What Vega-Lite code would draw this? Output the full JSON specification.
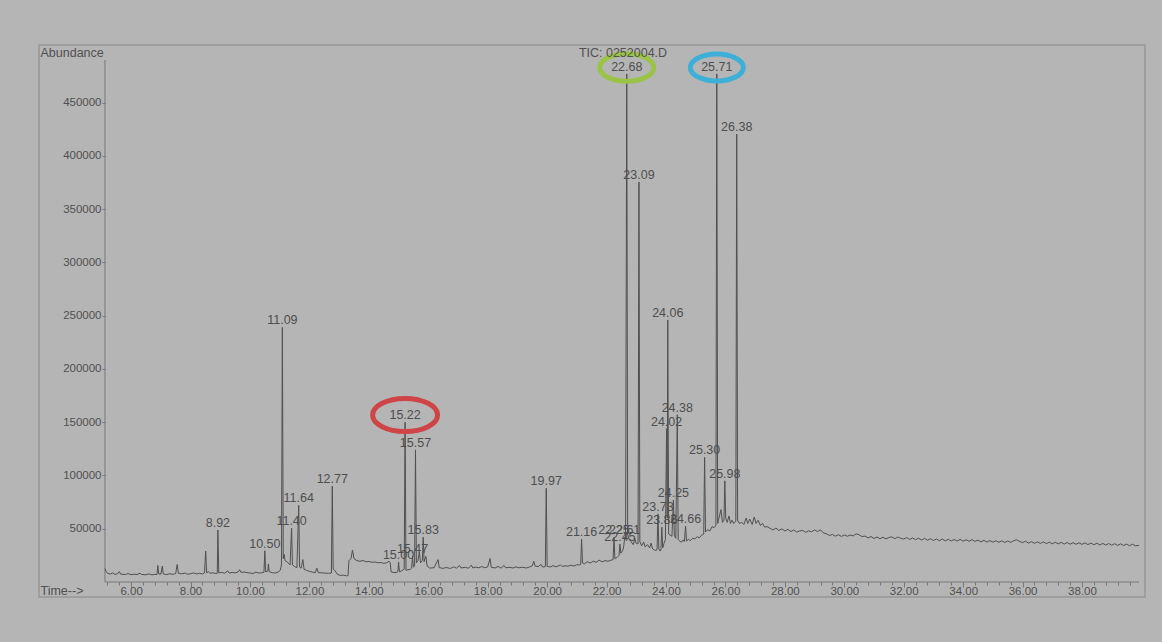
{
  "$schema": "https://vega.github.io/schema/vega-lite/v6.json",
  "autosize": {"type": "none"},
  "width": 1106,
  "height": 552,
  "padding": {"left": 39, "top": 45, "right": 17, "bottom": 45},
  "background": "#b5b5b5",
  "title": {
    "text": "TIC: 0252004.D",
    "anchor": "middle",
    "frame": "group",
    "font": "Liberation Sans",
    "fontSize": 12.5,
    "fontWeight": "normal",
    "color": "#505050",
    "baseline": "middle",
    "offset": -22,
    "dx": 31
  },
  "config": {
    "view": {"stroke": "#969696", "strokeWidth": 1.5},
    "axis": {
      "labelFont": "Liberation Sans",
      "labelFontSize": 11.5,
      "labelColor": "#505050",
      "titleFont": "Liberation Sans",
      "titleFontSize": 12.5,
      "titleFontWeight": "normal",
      "titleColor": "#505050",
      "domain": false,
      "tickColor": "#777777",
      "grid": false,
      "labelOverlap": false,
      "labelFlush": false
    }
  },
  "datasets": {
    "trace": [
      {"t": 5.12, "a": 12500}, {"t": 5.16, "a": 9500}, {"t": 5.22, "a": 8000}, {"t": 5.3, "a": 7500},
      {"t": 5.38, "a": 8600}, {"t": 5.45, "a": 7200}, {"t": 5.55, "a": 7800}, {"t": 5.6, "a": 9800},
      {"t": 5.65, "a": 7400}, {"t": 5.8, "a": 7000}, {"t": 5.9, "a": 7900}, {"t": 6.0, "a": 6800},
      {"t": 6.1, "a": 7300}, {"t": 6.2, "a": 7000}, {"t": 6.3, "a": 8200}, {"t": 6.35, "a": 7100},
      {"t": 6.5, "a": 6800}, {"t": 6.6, "a": 7600}, {"t": 6.7, "a": 6700}, {"t": 6.8, "a": 7200},
      {"t": 6.87, "a": 7000}, {"t": 6.9, "a": 15500}, {"t": 6.93, "a": 7500}, {"t": 7.0, "a": 7400},
      {"t": 7.05, "a": 15000}, {"t": 7.08, "a": 7600}, {"t": 7.2, "a": 7000}, {"t": 7.3, "a": 7800},
      {"t": 7.4, "a": 7200}, {"t": 7.5, "a": 7900}, {"t": 7.55, "a": 16500}, {"t": 7.59, "a": 8200},
      {"t": 7.7, "a": 7600}, {"t": 7.8, "a": 8400}, {"t": 7.9, "a": 7300}, {"t": 8.0, "a": 7800},
      {"t": 8.1, "a": 8500}, {"t": 8.2, "a": 7600}, {"t": 8.3, "a": 8200}, {"t": 8.4, "a": 7500},
      {"t": 8.47, "a": 8600}, {"t": 8.51, "a": 29000}, {"t": 8.54, "a": 8600}, {"t": 8.6, "a": 9800},
      {"t": 8.65, "a": 8200}, {"t": 8.75, "a": 8600}, {"t": 8.85, "a": 8000}, {"t": 8.9, "a": 8400},
      {"t": 8.92, "a": 48800, "label": "8.92"}, {"t": 8.95, "a": 8600}, {"t": 9.05, "a": 9000},
      {"t": 9.15, "a": 8200}, {"t": 9.25, "a": 10500}, {"t": 9.3, "a": 8400}, {"t": 9.4, "a": 9000},
      {"t": 9.5, "a": 8500}, {"t": 9.6, "a": 9400}, {"t": 9.65, "a": 11500}, {"t": 9.7, "a": 9000},
      {"t": 9.8, "a": 9400}, {"t": 9.9, "a": 8800}, {"t": 10.0, "a": 8400}, {"t": 10.1, "a": 8000},
      {"t": 10.2, "a": 9200}, {"t": 10.3, "a": 8400}, {"t": 10.4, "a": 8700}, {"t": 10.47, "a": 9000},
      {"t": 10.5, "a": 29300, "label": "10.50"}, {"t": 10.53, "a": 9600}, {"t": 10.6, "a": 10200},
      {"t": 10.62, "a": 17000}, {"t": 10.65, "a": 9600}, {"t": 10.75, "a": 8800}, {"t": 10.85, "a": 8400},
      {"t": 10.95, "a": 9400}, {"t": 11.02, "a": 11000}, {"t": 11.06, "a": 16000},
      {"t": 11.09, "a": 239000, "label": "11.09"}, {"t": 11.12, "a": 22000}, {"t": 11.15, "a": 26000},
      {"t": 11.18, "a": 20000}, {"t": 11.25, "a": 19000}, {"t": 11.35, "a": 16000},
      {"t": 11.4, "a": 50600, "label": "11.40"}, {"t": 11.43, "a": 16000}, {"t": 11.5, "a": 14500},
      {"t": 11.58, "a": 13500}, {"t": 11.64, "a": 72000, "label": "11.64"}, {"t": 11.67, "a": 14000},
      {"t": 11.72, "a": 13000}, {"t": 11.78, "a": 21000}, {"t": 11.82, "a": 12000}, {"t": 11.9, "a": 11000},
      {"t": 12.0, "a": 10000}, {"t": 12.1, "a": 9300}, {"t": 12.2, "a": 8800}, {"t": 12.25, "a": 13000},
      {"t": 12.3, "a": 8800}, {"t": 12.45, "a": 8500}, {"t": 12.55, "a": 8300}, {"t": 12.65, "a": 8200},
      {"t": 12.74, "a": 8400}, {"t": 12.77, "a": 90000, "label": "12.77"}, {"t": 12.8, "a": 12000},
      {"t": 12.85, "a": 11000}, {"t": 12.95, "a": 7000}, {"t": 13.05, "a": 6200}, {"t": 13.15, "a": 6400},
      {"t": 13.25, "a": 5800}, {"t": 13.3, "a": 6000}, {"t": 13.33, "a": 20000}, {"t": 13.4, "a": 22000},
      {"t": 13.45, "a": 30000}, {"t": 13.5, "a": 22000}, {"t": 13.6, "a": 20000}, {"t": 13.7, "a": 19500},
      {"t": 13.8, "a": 20200}, {"t": 13.9, "a": 19000}, {"t": 14.0, "a": 19300}, {"t": 14.1, "a": 18500},
      {"t": 14.2, "a": 18800}, {"t": 14.3, "a": 18000}, {"t": 14.4, "a": 18300}, {"t": 14.5, "a": 17600},
      {"t": 14.6, "a": 18000}, {"t": 14.68, "a": 19500}, {"t": 14.72, "a": 18000}, {"t": 14.75, "a": 9500},
      {"t": 14.85, "a": 8800}, {"t": 14.95, "a": 9200}, {"t": 14.98, "a": 10000},
      {"t": 15.0, "a": 18800, "label": "15.00"}, {"t": 15.03, "a": 9500}, {"t": 15.1, "a": 10500},
      {"t": 15.19, "a": 12000}, {"t": 15.22, "a": 150000, "label": "15.22"}, {"t": 15.25, "a": 11000},
      {"t": 15.32, "a": 11500}, {"t": 15.4, "a": 12000}, {"t": 15.44, "a": 13000},
      {"t": 15.47, "a": 24000, "label": "15.47"}, {"t": 15.5, "a": 14000}, {"t": 15.54, "a": 15000},
      {"t": 15.57, "a": 124000, "label": "15.57"}, {"t": 15.6, "a": 18000}, {"t": 15.65, "a": 20000},
      {"t": 15.7, "a": 28000}, {"t": 15.74, "a": 18000}, {"t": 15.8, "a": 20000},
      {"t": 15.83, "a": 42000, "label": "15.83"}, {"t": 15.86, "a": 19000}, {"t": 15.92, "a": 24000},
      {"t": 15.96, "a": 15000}, {"t": 16.05, "a": 13000}, {"t": 16.2, "a": 13500}, {"t": 16.33, "a": 21000},
      {"t": 16.37, "a": 13500}, {"t": 16.5, "a": 12800}, {"t": 16.6, "a": 13600}, {"t": 16.75, "a": 12700},
      {"t": 16.85, "a": 14200}, {"t": 16.95, "a": 13000}, {"t": 17.05, "a": 15500}, {"t": 17.1, "a": 13200},
      {"t": 17.25, "a": 13800}, {"t": 17.35, "a": 12900}, {"t": 17.45, "a": 15800}, {"t": 17.5, "a": 13200},
      {"t": 17.6, "a": 14000}, {"t": 17.7, "a": 13300}, {"t": 17.8, "a": 14500}, {"t": 17.9, "a": 13400},
      {"t": 18.0, "a": 14200}, {"t": 18.08, "a": 22000}, {"t": 18.12, "a": 13800}, {"t": 18.25, "a": 13200},
      {"t": 18.35, "a": 14600}, {"t": 18.45, "a": 13000}, {"t": 18.55, "a": 15500}, {"t": 18.6, "a": 13400},
      {"t": 18.75, "a": 13800}, {"t": 18.85, "a": 13100}, {"t": 18.95, "a": 14200}, {"t": 19.05, "a": 13300},
      {"t": 19.15, "a": 13900}, {"t": 19.3, "a": 13200}, {"t": 19.4, "a": 14000}, {"t": 19.5, "a": 15200},
      {"t": 19.55, "a": 19500}, {"t": 19.6, "a": 14800}, {"t": 19.7, "a": 14500}, {"t": 19.8, "a": 16500},
      {"t": 19.85, "a": 14000}, {"t": 19.94, "a": 14500}, {"t": 19.97, "a": 88000, "label": "19.97"},
      {"t": 20.0, "a": 14800}, {"t": 20.1, "a": 14000}, {"t": 20.2, "a": 15400}, {"t": 20.3, "a": 14200},
      {"t": 20.45, "a": 16000}, {"t": 20.5, "a": 14600}, {"t": 20.6, "a": 15200}, {"t": 20.7, "a": 14800},
      {"t": 20.8, "a": 15800}, {"t": 20.9, "a": 15000}, {"t": 21.0, "a": 16200}, {"t": 21.1, "a": 16000},
      {"t": 21.13, "a": 16500}, {"t": 21.16, "a": 40000, "label": "21.16"}, {"t": 21.19, "a": 18000},
      {"t": 21.25, "a": 17000}, {"t": 21.35, "a": 19000}, {"t": 21.45, "a": 17800}, {"t": 21.55, "a": 19500},
      {"t": 21.65, "a": 18500}, {"t": 21.75, "a": 20500}, {"t": 21.85, "a": 19000}, {"t": 21.95, "a": 20000},
      {"t": 22.05, "a": 19500}, {"t": 22.15, "a": 20500}, {"t": 22.22, "a": 21000},
      {"t": 22.25, "a": 42000, "label": "22.25"}, {"t": 22.28, "a": 22000}, {"t": 22.35, "a": 23000},
      {"t": 22.42, "a": 25000}, {"t": 22.45, "a": 35500, "label": "22.45"}, {"t": 22.48, "a": 27000},
      {"t": 22.55, "a": 30000}, {"t": 22.58, "a": 34000}, {"t": 22.61, "a": 42000, "label": "22.61"},
      {"t": 22.64, "a": 40000}, {"t": 22.68, "a": 476900, "label": "22.68"}, {"t": 22.71, "a": 45000},
      {"t": 22.76, "a": 40000}, {"t": 22.82, "a": 38000}, {"t": 22.9, "a": 35000}, {"t": 22.95, "a": 41000},
      {"t": 23.0, "a": 36000}, {"t": 23.06, "a": 36000}, {"t": 23.09, "a": 375500, "label": "23.09"},
      {"t": 23.12, "a": 38000}, {"t": 23.18, "a": 34000}, {"t": 23.25, "a": 37500}, {"t": 23.3, "a": 33000},
      {"t": 23.38, "a": 35000}, {"t": 23.45, "a": 32000}, {"t": 23.5, "a": 36500}, {"t": 23.55, "a": 31000},
      {"t": 23.62, "a": 30000}, {"t": 23.67, "a": 29500}, {"t": 23.7, "a": 31000},
      {"t": 23.73, "a": 64000, "label": "23.73"}, {"t": 23.76, "a": 31000}, {"t": 23.8, "a": 29000},
      {"t": 23.83, "a": 30000}, {"t": 23.86, "a": 51500, "label": "23.86"}, {"t": 23.89, "a": 32000},
      {"t": 23.93, "a": 36000}, {"t": 23.98, "a": 40000}, {"t": 24.02, "a": 144000, "label": "24.02"},
      {"t": 24.04, "a": 60000}, {"t": 24.06, "a": 246000, "label": "24.06"}, {"t": 24.09, "a": 45000},
      {"t": 24.14, "a": 44000}, {"t": 24.2, "a": 43000}, {"t": 24.25, "a": 77000, "label": "24.25"},
      {"t": 24.28, "a": 44000}, {"t": 24.33, "a": 41000}, {"t": 24.38, "a": 157000, "label": "24.38"},
      {"t": 24.41, "a": 40000}, {"t": 24.47, "a": 38000}, {"t": 24.53, "a": 37500}, {"t": 24.58, "a": 39500},
      {"t": 24.62, "a": 38000}, {"t": 24.66, "a": 52500, "label": "24.66"}, {"t": 24.69, "a": 38500},
      {"t": 24.75, "a": 40000}, {"t": 24.82, "a": 39000}, {"t": 24.9, "a": 41000}, {"t": 24.97, "a": 40500},
      {"t": 25.05, "a": 42500}, {"t": 25.12, "a": 41500}, {"t": 25.2, "a": 44000}, {"t": 25.27, "a": 45000},
      {"t": 25.3, "a": 117000, "label": "25.30"}, {"t": 25.33, "a": 47000}, {"t": 25.4, "a": 49000},
      {"t": 25.48, "a": 48000}, {"t": 25.55, "a": 52000}, {"t": 25.62, "a": 51000}, {"t": 25.68, "a": 53000},
      {"t": 25.71, "a": 476900, "label": "25.71"}, {"t": 25.74, "a": 55000}, {"t": 25.8, "a": 62000},
      {"t": 25.85, "a": 68000}, {"t": 25.9, "a": 56000}, {"t": 25.95, "a": 58000},
      {"t": 25.98, "a": 95000, "label": "25.98"}, {"t": 26.01, "a": 60000}, {"t": 26.06, "a": 56000},
      {"t": 26.12, "a": 62000}, {"t": 26.17, "a": 55000}, {"t": 26.22, "a": 58000}, {"t": 26.28, "a": 55000},
      {"t": 26.35, "a": 57000}, {"t": 26.38, "a": 420500, "label": "26.38"}, {"t": 26.41, "a": 58000},
      {"t": 26.47, "a": 55000}, {"t": 26.55, "a": 56000}, {"t": 26.62, "a": 54000}, {"t": 26.7, "a": 60000},
      {"t": 26.75, "a": 55000}, {"t": 26.82, "a": 59000}, {"t": 26.9, "a": 54000}, {"t": 26.97, "a": 61000},
      {"t": 27.03, "a": 55000}, {"t": 27.1, "a": 58000}, {"t": 27.18, "a": 53000}, {"t": 27.25, "a": 55000},
      {"t": 27.32, "a": 51500}, {"t": 27.4, "a": 52000}, {"t": 27.5, "a": 50500}, {"t": 27.6, "a": 48800},
      {"t": 27.7, "a": 50600}, {"t": 27.8, "a": 48400}, {"t": 27.9, "a": 49900}, {"t": 28.0, "a": 47900},
      {"t": 28.1, "a": 49400}, {"t": 28.2, "a": 47400}, {"t": 28.3, "a": 48900}, {"t": 28.4, "a": 46900},
      {"t": 28.5, "a": 47900}, {"t": 28.6, "a": 48500}, {"t": 28.7, "a": 46600}, {"t": 28.8, "a": 48000},
      {"t": 28.9, "a": 47200}, {"t": 29.0, "a": 48900}, {"t": 29.1, "a": 47300}, {"t": 29.2, "a": 49000},
      {"t": 29.3, "a": 46000}, {"t": 29.4, "a": 45300}, {"t": 29.5, "a": 43700}, {"t": 29.6, "a": 44600},
      {"t": 29.7, "a": 43000}, {"t": 29.8, "a": 44400}, {"t": 29.9, "a": 42800}, {"t": 30.0, "a": 44200},
      {"t": 30.1, "a": 42900}, {"t": 30.2, "a": 44100}, {"t": 30.3, "a": 43300}, {"t": 30.4, "a": 45200},
      {"t": 30.5, "a": 44300}, {"t": 30.6, "a": 42600}, {"t": 30.7, "a": 43100}, {"t": 30.8, "a": 41400},
      {"t": 30.9, "a": 42700}, {"t": 31.0, "a": 40800}, {"t": 31.1, "a": 42200}, {"t": 31.2, "a": 40600},
      {"t": 31.3, "a": 42000}, {"t": 31.4, "a": 40500}, {"t": 31.5, "a": 41800}, {"t": 31.6, "a": 42300},
      {"t": 31.7, "a": 40700}, {"t": 31.8, "a": 42200}, {"t": 31.9, "a": 41000}, {"t": 32.0, "a": 40300},
      {"t": 32.1, "a": 41700}, {"t": 32.2, "a": 39900}, {"t": 32.3, "a": 41300}, {"t": 32.4, "a": 39700},
      {"t": 32.5, "a": 41100}, {"t": 32.6, "a": 39400}, {"t": 32.7, "a": 40900}, {"t": 32.8, "a": 39200},
      {"t": 32.9, "a": 40600}, {"t": 33.0, "a": 38900}, {"t": 33.1, "a": 40400}, {"t": 33.2, "a": 38800},
      {"t": 33.3, "a": 40300}, {"t": 33.4, "a": 38600}, {"t": 33.5, "a": 40100}, {"t": 33.6, "a": 38500},
      {"t": 33.7, "a": 39900}, {"t": 33.8, "a": 38400}, {"t": 33.9, "a": 40000}, {"t": 34.0, "a": 38300},
      {"t": 34.1, "a": 39700}, {"t": 34.2, "a": 38200}, {"t": 34.3, "a": 39800}, {"t": 34.4, "a": 38100},
      {"t": 34.5, "a": 39300}, {"t": 34.6, "a": 37700}, {"t": 34.7, "a": 39100}, {"t": 34.8, "a": 37500},
      {"t": 34.9, "a": 38900}, {"t": 35.0, "a": 37400}, {"t": 35.1, "a": 38700}, {"t": 35.2, "a": 37300},
      {"t": 35.3, "a": 38600}, {"t": 35.4, "a": 37100}, {"t": 35.5, "a": 38500}, {"t": 35.6, "a": 37200},
      {"t": 35.7, "a": 38800}, {"t": 35.8, "a": 39600}, {"t": 35.9, "a": 38100}, {"t": 36.0, "a": 37000},
      {"t": 36.1, "a": 38300}, {"t": 36.2, "a": 36500}, {"t": 36.3, "a": 37900}, {"t": 36.4, "a": 36300},
      {"t": 36.5, "a": 37700}, {"t": 36.6, "a": 36200}, {"t": 36.7, "a": 37600}, {"t": 36.8, "a": 36000},
      {"t": 36.9, "a": 37400}, {"t": 37.0, "a": 35900}, {"t": 37.1, "a": 37300}, {"t": 37.2, "a": 35800},
      {"t": 37.3, "a": 37200}, {"t": 37.4, "a": 35600}, {"t": 37.5, "a": 37000}, {"t": 37.6, "a": 35500},
      {"t": 37.7, "a": 36900}, {"t": 37.8, "a": 35400}, {"t": 37.9, "a": 36800}, {"t": 38.0, "a": 35300},
      {"t": 38.1, "a": 36700}, {"t": 38.2, "a": 35100}, {"t": 38.3, "a": 36500}, {"t": 38.4, "a": 35000},
      {"t": 38.5, "a": 36400}, {"t": 38.6, "a": 34800}, {"t": 38.7, "a": 36200}, {"t": 38.8, "a": 34700},
      {"t": 38.9, "a": 36100}, {"t": 39.0, "a": 34500}, {"t": 39.1, "a": 35900}, {"t": 39.2, "a": 34400},
      {"t": 39.3, "a": 35800}, {"t": 39.4, "a": 34300}, {"t": 39.5, "a": 35600}, {"t": 39.6, "a": 34100},
      {"t": 39.7, "a": 35500}, {"t": 39.8, "a": 34000}, {"t": 39.92, "a": 34300}
    ],
    "highlights": [
      {"t": 22.68, "a": 483000, "ring": "A"},
      {"t": 25.71, "a": 483000, "ring": "B"},
      {"t": 15.22, "a": 156800, "ring": "C"}
    ],
    "frameAnchor": [{"k": 1}]
  },
  "encoding": {
    "x": {
      "field": "t",
      "type": "quantitative",
      "scale": {"domain": [2.9, 40.12], "nice": false, "zero": false},
      "axis": {
        "title": "Time-->",
        "offset": -15,
        "titleX": 1,
        "titleY": 8,
        "titleAlign": "left",
        "titleBaseline": "middle",
        "titleAngle": 0,
        "values": [5.2, 5.6, 6, 6.4, 6.8, 7.2, 7.6, 8, 8.4, 8.8, 9.2, 9.6, 10, 10.4, 10.8, 11.2, 11.6, 12, 12.4, 12.8, 13.2, 13.6, 14, 14.4, 14.8, 15.2, 15.6, 16, 16.4, 16.8, 17.2, 17.6, 18, 18.4, 18.8, 19.2, 19.6, 20, 20.4, 20.8, 21.2, 21.6, 22, 22.4, 22.8, 23.2, 23.6, 24, 24.4, 24.8, 25.2, 25.6, 26, 26.4, 26.8, 27.2, 27.6, 28, 28.4, 28.8, 29.2, 29.6, 30, 30.4, 30.8, 31.2, 31.6, 32, 32.4, 32.8, 33.2, 33.6, 34, 34.4, 34.8, 35.2, 35.6, 36, 36.4, 36.8, 37.2, 37.6, 38, 38.4, 38.8, 39.2, 39.6],
        "labelExpr": "datum.value % 2 == 0 ? format(datum.value, '.2f') : ''",
        "tickSize": {"condition": {"test": "datum.value % 2 == 0", "value": 5}, "value": 3},
        "labelPadding": -2
      }
    },
    "y": {
      "field": "a",
      "type": "quantitative",
      "scale": {"domain": [-14080, 504080], "nice": false, "zero": false},
      "axis": {
        "title": "Abundance",
        "offset": -66,
        "titleAngle": 0,
        "titleX": -65,
        "titleY": 7,
        "titleAlign": "left",
        "titleBaseline": "middle",
        "values": [50000, 100000, 150000, 200000, 250000, 300000, 350000, 400000, 450000],
        "format": "d",
        "tickSize": 3,
        "labelPadding": 1
      }
    }
  },
  "layer": [
    {
      "data": {"name": "frameAnchor"},
      "mark": {"type": "rule", "color": "#777777", "strokeWidth": 1},
      "encoding": {
        "x": {"value": {"expr": "scale('x', 5.12)"}},
        "y": {"value": {"expr": "scale('y', 0)"}},
        "y2": {"value": {"expr": "scale('y', 490000)"}}
      }
    },
    {
      "data": {"name": "frameAnchor"},
      "mark": {"type": "rule", "color": "#777777", "strokeWidth": 1},
      "encoding": {
        "x": {"value": {"expr": "scale('x', 5.12)"}},
        "x2": {"value": {"expr": "scale('x', 39.92)"}},
        "y": {"value": {"expr": "scale('y', 0)"}}
      }
    },
    {
      "data": {"name": "trace"},
      "mark": {"type": "line", "color": "#505050", "strokeWidth": 1}
    },
    {
      "data": {"name": "trace"},
      "transform": [{"filter": "isValid(datum.label)"}],
      "mark": {
        "type": "text",
        "font": "Liberation Sans",
        "fontSize": 12.5,
        "color": "#4e4e4e",
        "baseline": "alphabetic",
        "align": "center",
        "dy": -3
      },
      "encoding": {"text": {"field": "label"}}
    },
    {
      "data": {"name": "highlights"},
      "mark": {
        "type": "point",
        "filled": false,
        "opacity": 1,
        "strokeWidth": 5,
        "shape": "M-1,0C-1,-0.28,-0.552,-0.51,0,-0.51C0.552,-0.51,1,-0.28,1,0C1,0.28,0.552,0.51,0,0.51C-0.552,0.51,-1,0.28,-1,0Z"
      },
      "encoding": {
        "color": {
          "field": "ring",
          "type": "nominal",
          "scale": {"domain": ["A", "B", "C"], "range": ["#9ac347", "#3eb0d8", "#cf4446"]},
          "legend": null
        },
        "size": {
          "field": "ring",
          "type": "nominal",
          "scale": {"type": "ordinal", "domain": ["A", "B", "C"], "range": [2916, 2809, 4225]},
          "legend": null
        }
      }
    }
  ]
}
